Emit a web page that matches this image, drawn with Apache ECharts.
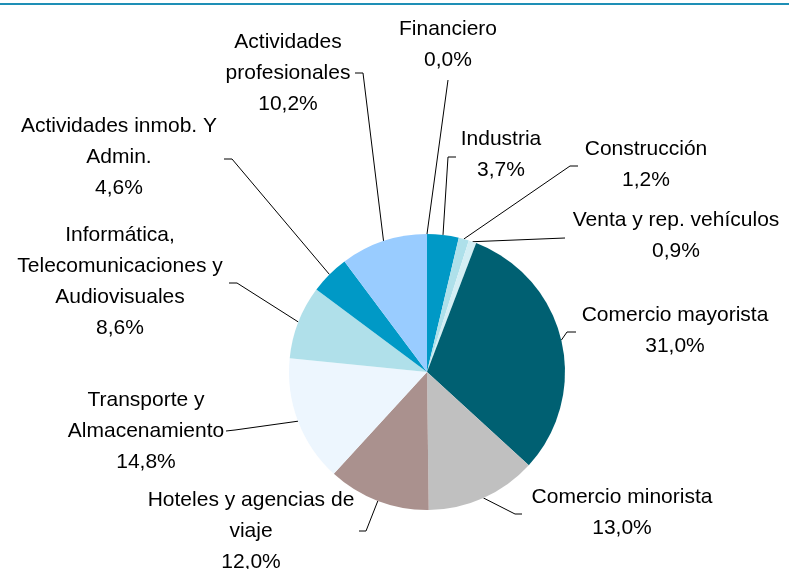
<!DOCTYPE html>
<html>
<head>
<meta charset="utf-8">
<script src="https://cdn.jsdelivr.net/npm/echarts@6/dist/echarts.min.js"></script>
<style>
  html, body { margin: 0; padding: 0; background: #ffffff; }
  #chart { width: 789px; height: 569px; }
</style>
</head>
<body>
<div id="chart"></div>
<script>
// Sector shares (%) in clockwise order, starting at 12 o'clock
const sectors = [
  'Financiero',
  'Industria',
  'Construcción',
  'Venta y rep. vehículos',
  'Comercio mayorista',
  'Comercio minorista',
  'Hoteles y agencias de\nviaje',
  'Transporte y\nAlmacenamiento',
  'Informática,\nTelecomunicaciones y\nAudiovisuales',
  'Actividades inmob. Y\nAdmin.',
  'Actividades\nprofesionales'
];
const shares = [0.0, 3.7, 1.2, 0.9, 31.0, 13.0, 12.0, 14.8, 8.6, 4.6, 10.2];

// Slice fills
const sliceColors = [
  '#0099c6', '#0099c6', '#aee0ea', '#d3eef4', '#006072', '#c0c0c0',
  '#aa918e', '#edf6fe', '#b0e0ea', '#0099c6', '#99ccff'
];

// Where each label block sits (centre) and the bend of its leader line
const labelPlacement = [
  { x: 448, y: 45,  bend: [448, 80],  end: [448, 80] },
  { x: 501, y: 155, bend: [448, 157], end: [456, 157] },
  { x: 646, y: 165, bend: [570, 166], end: [578, 166] },
  { x: 676, y: 236, bend: [565, 238], end: [565, 238] },
  { x: 675, y: 331, bend: [567, 332], end: [576, 332] },
  { x: 622, y: 513, bend: [515, 514], end: [522, 514] },
  { x: 251, y: 531, bend: [366, 531], end: [359, 531] },
  { x: 146, y: 431, bend: [235, 430], end: [226, 431] },
  { x: 120, y: 282, bend: [237, 283], end: [229, 283] },
  { x: 119, y: 157, bend: [232, 159], end: [224, 159] },
  { x: 288, y: 73,  bend: [363, 73],  end: [355, 73] }
];

const fmtPct = v => v.toFixed(1).replace('.', ',') + '%';

const chart = echarts.init(document.getElementById('chart'), null, { renderer: 'canvas' });

chart.setOption({
  backgroundColor: '#ffffff',
  animation: false,
  graphic: [{
    type: 'rect',
    shape: { x: 0, y: 3, width: 789, height: 2 },
    style: { fill: '#1e8fb6' },
    silent: true
  }],
  series: [{
    type: 'pie',
    center: [427, 372],
    radius: 138,
    startAngle: 90,
    clockwise: true,
    avoidLabelOverlap: false,
    stillShowZeroSum: true,
    itemStyle: { borderWidth: 0 },
    emphasis: { disabled: true },
    label: {
      show: true,
      position: 'outside',
      color: '#000000',
      fontFamily: '"Liberation Sans", Arial, sans-serif',
      fontSize: 21,
      lineHeight: 31,
      align: 'center',
      formatter: p => p.name + '\n' + fmtPct(p.value)
    },
    labelLine: {
      show: true,
      length: 10,
      length2: 10,
      lineStyle: { color: '#000000', width: 1 }
    },
    labelLayout: function (params) {
      const lp = labelPlacement[params.dataIndex];
      const start = params.labelLinePoints ? params.labelLinePoints[0] : lp.bend;
      return {
        x: lp.x,
        y: lp.y,
        align: 'center',
        verticalAlign: 'middle',
        labelLinePoints: [start, lp.bend, lp.end]
      };
    },
    data: sectors.map((name, i) => ({
      name: name,
      value: shares[i],
      itemStyle: { color: sliceColors[i] }
    }))
  }]
});
</script>
</body>
</html>
